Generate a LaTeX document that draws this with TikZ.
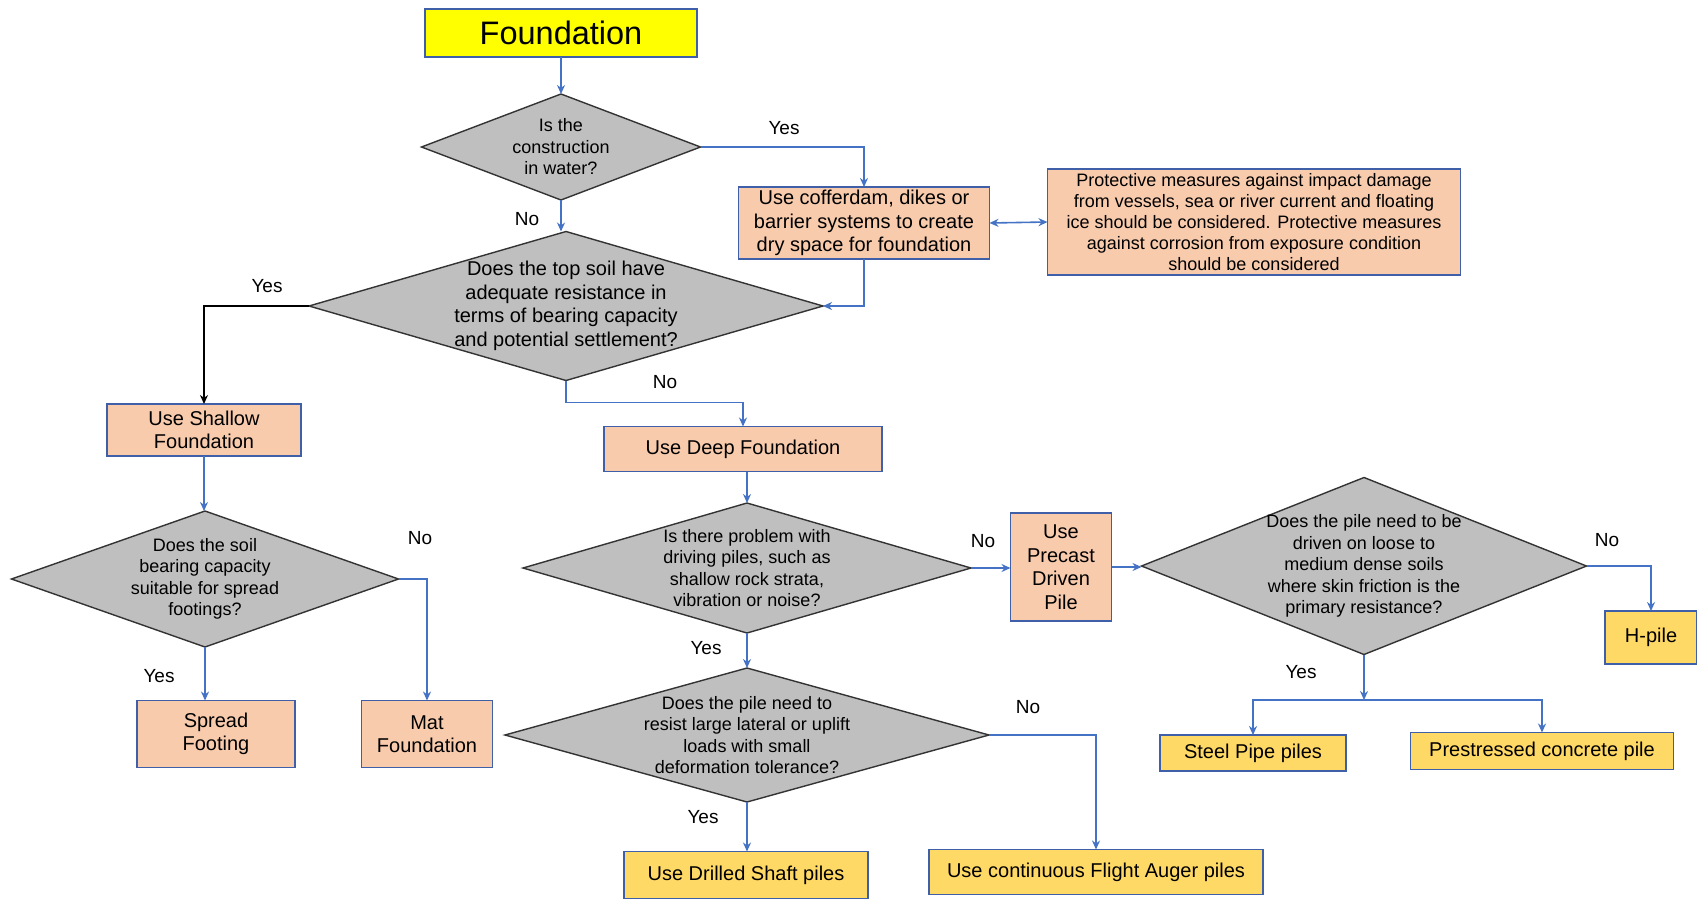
\documentclass[tikz,border=0pt]{standalone}
\usepackage{fontspec}
\setmainfont{Liberation Sans}
\usetikzlibrary{shapes.geometric,arrows.meta}
\definecolor{lineblue}{HTML}{4472C4}
\definecolor{boxborder}{HTML}{3F5FA8}
\definecolor{peach}{HTML}{F8CBAD}
\definecolor{gold}{HTML}{FFD966}
\definecolor{grayfill}{HTML}{BFBFBF}
\definecolor{pureyellow}{HTML}{FFFF00}
\tikzset{
 base/.style={draw=boxborder, line width=1.8pt, inner sep=2pt, outer sep=0pt, align=center, font=\fontsize{20}{23.5}\selectfont},
 pbox/.style={base, fill=peach},
 ybox/.style={base, fill=gold},
 dia/.style={diamond, draw=black!80, line width=1.4pt, fill=grayfill, inner sep=0pt, outer sep=0pt},
 dtext/.style={align=center, font=\fontsize{18}{21.5}\selectfont, inner sep=0pt},
 conn/.style={draw=lineblue, line width=1.6pt, -{Stealth[length=9pt,width=8pt]}},
 lbl/.style={font=\fontsize{19}{23}\selectfont, inner sep=0pt},
}
\begin{document}
\begin{tikzpicture}[x=1pt,y=-1pt]
\useasboundingbox[fill=white] (0,0) rectangle (1697,900);
% nodes
\node[base, fill=pureyellow, minimum width=272, minimum height=48, font=\fontsize{32.5}{36}\selectfont] (found) at (561,33) {Foundation};
\node[dia, minimum width=279, minimum height=106, label={[dtext]center:{Is the\\construction\\in water?}}] (d1) at (561,147) {};
\node[pbox, minimum width=251, minimum height=72] (coff) at (864,223) {Use cofferdam, dikes or\\barrier systems to create\\dry space for foundation};
\node[pbox, minimum width=413, minimum height=106, font=\fontsize{18}{21.2}\selectfont] (prot) at (1254,222) {Protective measures against impact damage\\from vessels, sea or river current and floating\\ice should be considered. Protective measures\\against corrosion from exposure condition\\should be considered};
\node[dia, minimum width=514, minimum height=149, label={[dtext, font=\fontsize{20}{23.5}\selectfont]center:{Does the top soil have\\adequate resistance in\\terms of bearing capacity\\and potential settlement?}}] (d2) at (566,306) {};
\node[pbox, minimum width=194, minimum height=52] (shallow) at (204,430) {Use Shallow\\Foundation};
\node[pbox, minimum width=278, minimum height=45] (deep) at (743,449) {Use Deep Foundation};
\node[dia, minimum width=387, minimum height=136, label={[dtext]center:{Does the soil\\bearing capacity\\suitable for spread\\footings?}}] (d3) at (205,579) {};
\node[pbox, minimum width=158, minimum height=67] (spread) at (216,734) {Spread\\Footing};
\node[pbox, minimum width=131, minimum height=67] (mat) at (427,734) {Mat\\Foundation};
\node[dia, minimum width=448, minimum height=130, label={[dtext]center:{Is there problem with\\driving piles, such as\\shallow rock strata,\\vibration or noise?}}] (d4) at (747,568) {};
\node[pbox, minimum width=101, minimum height=108] (precast) at (1061,567) {Use\\Precast\\Driven\\Pile};
\node[dia, minimum width=445, minimum height=177, label={[dtext]center:{Does the pile need to be\\driven on loose to\\medium dense soils\\where skin friction is the\\primary resistance?}}] (d5) at (1364,566) {};
\node[ybox, minimum width=92, minimum height=53] (hpile) at (1651,637.5) {H-pile};
\node[ybox, minimum width=186, minimum height=36] (steel) at (1253,753) {Steel Pipe piles};
\node[ybox, minimum width=263, minimum height=37] (pres) at (1542,751) {Prestressed concrete pile};
\node[dia, minimum width=484, minimum height=134, label={[dtext]center:{Does the pile need to\\resist large lateral or uplift\\loads with small\\deformation tolerance?}}] (d6) at (747,735) {};
\node[ybox, minimum width=244, minimum height=47] (drilled) at (746,875) {Use Drilled Shaft piles};
\node[ybox, minimum width=334, minimum height=45] (cfa) at (1096,872) {Use continuous Flight Auger piles};
\coordinate (j) at (1364,700);
% connectors
\draw[conn] (found.south) -- (d1.north);
\draw[conn] (d1.east) -| (coff.north);
\draw[conn] (d1.south) -- (d1.south |- d2.north);
\draw[conn] (coff.south) |- (d2.east);
\draw[draw=lineblue, line width=1.6pt, {Stealth[length=9pt,width=8pt]}-{Stealth[length=9pt,width=8pt]}] (coff.east) -- (prot.west);
\draw[conn, draw=black] (d2.west) -| (shallow.north);
\draw[conn] (d2.south) -- ++(0,22) -| (deep.north);
\draw[conn] (shallow.south) -- (shallow.south |- d3.north);
\draw[conn] (d3.east) -| (mat.north);
\draw[conn] (d3.south) -- (d3.south |- spread.north);
\draw[conn] (deep.south -| d4.north) -- (d4.north);
\draw[conn] (d4.east) -- (d4.east -| precast.west);
\draw[conn] (precast.east) -- (precast.east -| d5.west);
\draw[conn] (d5.east) -| (hpile.north);
\draw[conn] (d5.south) -- (j);
\draw[conn] (j) -| (steel.north);
\draw[conn] (j) -| (pres.north);
\draw[conn] (d4.south) -- (d6.north);
\draw[conn] (d6.east) -| (cfa.north);
\draw[conn] (d6.south) -- (d6.south |- drilled.north);
% labels
\node[lbl] (l1) at (784,128) {Yes};
\node[lbl] (l2) at (527,219) {No};
\node[lbl] (l3) at (267,286) {Yes};
\node[lbl] (l4) at (665,382) {No};
\node[lbl] (l5) at (420,538) {No};
\node[lbl] (l6) at (159,676) {Yes};
\node[lbl] (l7) at (983,541) {No};
\node[lbl] (l8) at (706,648) {Yes};
\node[lbl] (l9) at (1607,540) {No};
\node[lbl] (l10) at (1301,672) {Yes};
\node[lbl] (l11) at (1028,707) {No};
\node[lbl] (l12) at (703,817) {Yes};
\end{tikzpicture}
\end{document}
